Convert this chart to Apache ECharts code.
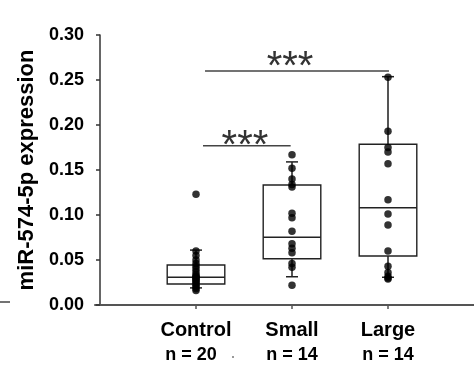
<!DOCTYPE html>
<html>
<head>
<meta charset="utf-8">
<script src="https://cdn.jsdelivr.net/npm/echarts@6/dist/echarts.min.js"></script>
<style>html,body{margin:0;padding:0;background:#fff}#c{width:474px;height:374px}</style>
</head>
<body>
<div id="c"></div>
<script>
// ---- data ----
var categories = ['Control', 'Small', 'Large'];
var nLabels = ['n = 20', 'n = 14', 'n = 14'];
var yTicks = [0, 0.05, 0.10, 0.15, 0.20, 0.25, 0.30];
// box stats: [lower whisker, Q1, median, Q3, upper whisker]
var controlBox = [0.019, 0.0233, 0.0308, 0.0444, 0.061];
var smallBox = [0.0314, 0.0514, 0.0752, 0.1333, 0.159];
var largeBox = [0.0308, 0.0544, 0.1081, 0.1786, 0.2537];
var controlPoints = [0.123, 0.060, 0.055, 0.050, 0.046, 0.043, 0.040, 0.037, 0.034, 0.032,
                     0.031, 0.030, 0.029, 0.027, 0.026, 0.024, 0.022, 0.020, 0.018, 0.016];
var smallPoints = [0.167, 0.152, 0.140, 0.134, 0.131, 0.102, 0.097, 0.082, 0.068, 0.063,
                   0.058, 0.046, 0.042, 0.022];
var largePoints = [0.253, 0.193, 0.175, 0.170, 0.157, 0.117, 0.101, 0.089, 0.060, 0.043,
                   0.036, 0.032, 0.030, 0.029];
// significance brackets: [x start, x end, line y, label x, label y]
var brackets = [
  [1.094, 3.010, 0.260, 1.98, 0.2733],
  [1.073, 1.986, 0.177, 1.51, 0.1856]
];
var sigLabel = '***';
var yTitle = 'miR-574-5p expression';

// ---- build ----
var boxes = [controlBox, smallBox, largeBox];
var boxData = boxes.map(function (b, i) { return [i + 1].concat(b); });
var pointSets = [controlPoints, smallPoints, largePoints];
var scatterData = [];
pointSets.forEach(function (arr, i) {
  arr.forEach(function (v) { scatterData.push([i + 1, v]); });
});

var chart = echarts.init(document.getElementById('c'), null, {renderer: 'canvas'});
var FONT = '"Liberation Sans", Arial, sans-serif';

function renderBox(params, api) {
  var x = api.value(0);
  var lo = api.value(1), q1 = api.value(2), med = api.value(3), q3 = api.value(4), hi = api.value(5);
  var hw = 0.3;
  var pTL = api.coord([x - hw, q3]);
  var pBR = api.coord([x + hw, q1]);
  var pMedL = api.coord([x - hw, med]);
  var pMedR = api.coord([x + hw, med]);
  var pc = api.coord([x, 0]);
  var cx = pc[0];
  var yLo = api.coord([x, lo])[1], yHi = api.coord([x, hi])[1];
  var cap = 6;
  var wStyle = {stroke: '#555', lineWidth: 2};
  var bStyle = {stroke: '#222', lineWidth: 1.4, fill: null};
  return {
    type: 'group',
    children: [
      {type: 'line', shape: {x1: cx, y1: pTL[1], x2: cx, y2: yHi}, style: wStyle},
      {type: 'line', shape: {x1: cx, y1: pBR[1], x2: cx, y2: yLo}, style: wStyle},
      {type: 'line', shape: {x1: cx - cap, y1: yHi, x2: cx + cap, y2: yHi}, style: {stroke: '#222', lineWidth: 1.5}},
      {type: 'line', shape: {x1: cx - cap, y1: yLo, x2: cx + cap, y2: yLo}, style: {stroke: '#222', lineWidth: 1.5}},
      {type: 'rect', shape: {x: pTL[0], y: pTL[1], width: pBR[0] - pTL[0], height: pBR[1] - pTL[1]}, style: bStyle},
      {type: 'line', shape: {x1: pMedL[0], y1: pMedL[1], x2: pMedR[0], y2: pMedR[1]}, style: {stroke: '#222', lineWidth: 1.4}}
    ]
  };
}

function renderBracket(params, api) {
  var a = api.coord([api.value(0), api.value(2)]);
  var b = api.coord([api.value(1), api.value(2)]);
  var t = api.coord([api.value(3), api.value(4)]);
  return {
    type: 'group',
    children: [
      {type: 'line', shape: {x1: a[0], y1: a[1], x2: b[0], y2: b[1]}, style: {stroke: '#444', lineWidth: 1.5}},
      {type: 'text', x: t[0], y: t[1] + 9, style: {text: sigLabel, font: 'normal 40px ' + FONT, fill: '#333', align: 'center', verticalAlign: 'middle'}}
    ]
  };
}

var option = {
  animation: false,
  backgroundColor: '#fff',
  grid: {left: 95, right: 0, top: 35, bottom: 69, containLabel: false},
  xAxis: {
    type: 'value', min: -5 / 96, max: 374 / 96,
    splitLine: {show: false},
    axisLine: {show: true, lineStyle: {color: '#555', width: 2}},
    axisTick: {show: true, customValues: [1, 2, 3], length: 4, lineStyle: {color: '#555', width: 1.5}},
    axisLabel: {
      show: true, customValues: [1, 2, 3], margin: 12,
      formatter: function (v) {
        var i = Math.round(v) - 1;
        return '{a|' + categories[i] + '}\n{' + (i === 0 ? 'c' : 'b') + '|' + nLabels[i] + '}';
      },
      rich: {
        a: {fontSize: 20, fontWeight: 'bold', fontFamily: FONT, color: '#000', lineHeight: 26},
        b: {fontSize: 18, fontWeight: 'bold', fontFamily: FONT, color: '#000', lineHeight: 24},
        c: {fontSize: 18, fontWeight: 'bold', fontFamily: FONT, color: '#000', lineHeight: 24, padding: [0, 10, 0, 0]}
      }
    }
  },
  yAxis: {
    type: 'value', min: yTicks[0], max: yTicks[yTicks.length - 1], interval: 0.05,
    name: yTitle, nameLocation: 'middle', nameRotate: 90, nameGap: 56,
    nameTextStyle: {fontSize: 22, fontWeight: 'bold', fontFamily: FONT, color: '#000'},
    splitLine: {show: false},
    axisLine: {show: true, onZero: true, lineStyle: {color: '#333', width: 1.5}},
    axisTick: {show: true, inside: false, length: 4, lineStyle: {color: '#333', width: 1.5}},
    axisLabel: {
      margin: 11, fontSize: 18, fontWeight: 'bold', fontFamily: FONT, color: '#000',
      formatter: function (v) { return v.toFixed(2); }
    }
  },
  series: [
    {type: 'custom', renderItem: renderBox, data: boxData, z: 2, clip: false},
    {type: 'scatter', data: scatterData, symbol: 'circle', symbolSize: 7.5, itemStyle: {color: '#000'}, z: 3},
    {type: 'custom', renderItem: renderBracket, data: brackets, z: 4, clip: false}
  ],
  graphic: [
    {type: 'line', shape: {x1: 0, y1: 302, x2: 10, y2: 302}, style: {stroke: '#444', lineWidth: 1.5}},
    {type: 'circle', shape: {cx: 233, cy: 357, r: 1}, style: {fill: '#777'}}
  ]
};
chart.setOption(option);
</script>
</body>
</html>
